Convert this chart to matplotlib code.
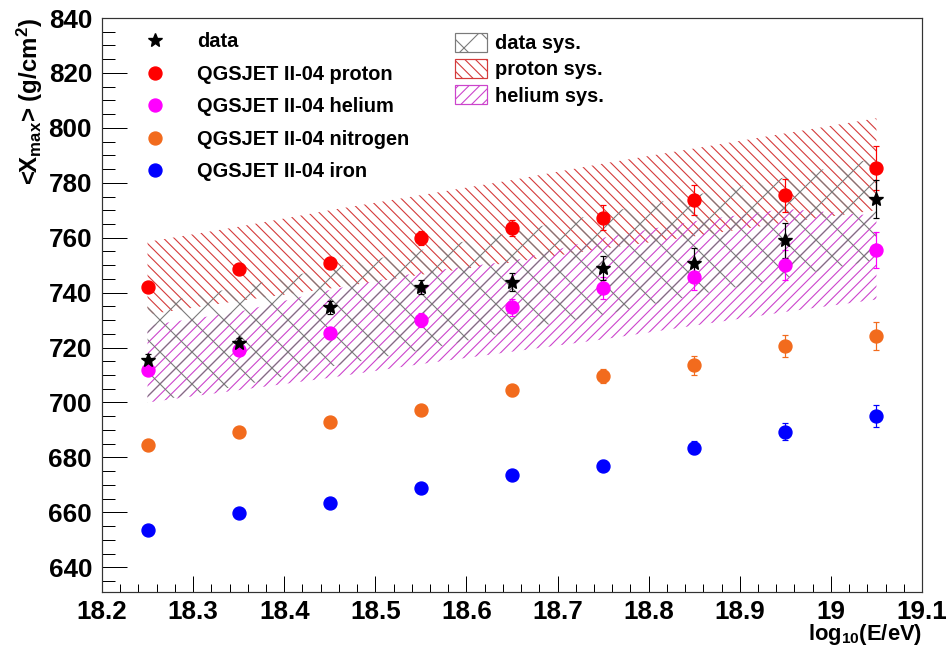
import matplotlib
matplotlib.use("Agg")
import matplotlib.pyplot as plt
from matplotlib.lines import Line2D
from matplotlib.patches import Patch
from matplotlib.ticker import MultipleLocator, FixedLocator

# ---------------- data ----------------
energy = [18.25, 18.35, 18.45, 18.55, 18.65, 18.75, 18.85, 18.95, 19.05]

data_xmax = [715.5, 721.5, 734.6, 742.0, 743.8, 749.0, 750.8, 759.0, 774.0]
data_err = [2.0, 2.0, 2.5, 2.5, 3.2, 4.5, 5.3, 6.4, 7.0]

proton_xmax = [742.0, 748.6, 750.8, 760.0, 763.6, 767.3, 773.6, 775.5, 785.5]
proton_err = [1.5, 1.5, 2.0, 2.5, 3.0, 4.5, 5.5, 6.0, 8.0]

helium_xmax = [712.0, 719.2, 725.3, 730.1, 734.6, 741.6, 745.8, 750.2, 755.6]
helium_err = [1.5, 1.5, 2.0, 2.5, 3.0, 4.0, 5.0, 5.5, 6.5]

nitrogen_xmax = [684.5, 689.4, 693.0, 697.3, 704.5, 709.6, 713.6, 720.7, 724.2]
nitrogen_err = [1.2, 1.2, 1.5, 1.8, 2.0, 2.5, 3.5, 4.0, 5.0]

iron_xmax = [653.5, 659.7, 663.4, 668.8, 673.6, 676.9, 683.6, 689.4, 695.0]
iron_err = [1.0, 1.0, 1.2, 1.5, 1.8, 2.0, 2.5, 3.0, 4.0]

data_sys_hi = [735.5, 742.0, 749.0, 755.5, 762.0, 769.0, 775.5, 782.0, 789.0]
data_sys_lo = [700.0, 706.0, 713.0, 719.0, 726.0, 732.0, 739.0, 745.5, 752.0]

proton_sys_hi = [758.5, 764.0, 770.0, 775.5, 781.0, 787.0, 792.5, 798.0, 803.5]
proton_sys_lo = [732.0, 737.0, 741.5, 746.5, 751.0, 756.0, 760.5, 765.5, 770.0]

helium_sys_hi = [728.0, 733.0, 741.0, 747.5, 751.5, 760.0, 766.0, 770.5, 768.0]
helium_sys_lo = [700.0, 704.5, 709.0, 714.0, 718.5, 723.0, 728.0, 733.0, 737.5]

x_ticks = [18.2, 18.3, 18.4, 18.5, 18.6, 18.7, 18.8, 18.9, 19.0, 19.1]
x_tick_labels = ["18.2", "18.3", "18.4", "18.5", "18.6", "18.7", "18.8", "18.9", "19", "19.1"]
y_ticks = [640, 660, 680, 700, 720, 740, 760, 780, 800, 820, 840]

model_labels = ["data", "QGSJET II-04 proton", "QGSJET II-04 helium",
                "QGSJET II-04 nitrogen", "QGSJET II-04 iron"]
sys_labels = ["data sys.", "proton sys.", "helium sys."]

# ---------------- style ----------------
FONT = "Liberation Sans"
DPI = 96
PX = 72.0 / DPI  # points per pixel

plt.rcParams["font.family"] = [FONT, "DejaVu Sans"]
plt.rcParams["font.weight"] = "bold"
plt.rcParams["axes.labelweight"] = "bold"
plt.rcParams["mathtext.fontset"] = "custom"
plt.rcParams["mathtext.rm"] = FONT + ":bold"
plt.rcParams["mathtext.it"] = FONT + ":bold"
plt.rcParams["mathtext.bf"] = FONT + ":bold"
plt.rcParams["mathtext.default"] = "rm"
plt.rcParams["hatch.linewidth"] = 1.1 * PX

c_data = "black"
c_proton = "#ff0000"
c_helium = "#ff00ff"
c_nitrogen = "#f26b1d"
c_iron = "#0000ff"
c_data_sys = "#7a7a7a"
c_proton_sys = "#d43a3a"
c_helium_sys = "#cc44cc"

hatch_data = "x"
hatch_proton = "\\\\\\"
hatch_helium = "///"

fig = plt.figure(figsize=(949 / DPI, 659 / DPI), dpi=DPI)
ax = fig.add_axes([102 / 949, 1 - 592 / 659, 820 / 949, 574 / 659])

# systematic bands
ax.fill_between(energy, proton_sys_lo, proton_sys_hi, facecolor="none",
                edgecolor=c_proton_sys, hatch=hatch_proton, linewidth=0, zorder=1)
ax.fill_between(energy, helium_sys_lo, helium_sys_hi, facecolor="none",
                edgecolor=c_helium_sys, hatch=hatch_helium, linewidth=0, zorder=1)
ax.fill_between(energy, data_sys_lo, data_sys_hi, facecolor="none",
                edgecolor=c_data_sys, hatch=hatch_data, linewidth=0, zorder=2)

ms = 13 * PX
eb_kw = dict(ls="none", elinewidth=1.2 * PX, capsize=3.0 * PX, capthick=1.2 * PX, zorder=4)
ax.errorbar(energy, iron_xmax, yerr=iron_err, marker="o", ms=ms, color=c_iron, mec=c_iron, **eb_kw)
ax.errorbar(energy, nitrogen_xmax, yerr=nitrogen_err, marker="o", ms=ms, color=c_nitrogen, mec=c_nitrogen, **eb_kw)
ax.errorbar(energy, helium_xmax, yerr=helium_err, marker="o", ms=ms, color=c_helium, mec=c_helium, **eb_kw)
ax.errorbar(energy, proton_xmax, yerr=proton_err, marker="o", ms=ms, color=c_proton, mec=c_proton, **eb_kw)
ax.errorbar(energy, data_xmax, yerr=data_err, marker="*", ms=15 * PX, color=c_data, mec=c_data, **eb_kw)

ax.set_xlim(18.2, 19.1)
ax.set_ylim(631, 840)
ax.xaxis.set_major_locator(FixedLocator(x_ticks))
ax.set_xticklabels(x_tick_labels)
ax.xaxis.set_minor_locator(MultipleLocator(0.02))
ax.yaxis.set_major_locator(FixedLocator(y_ticks))
ax.yaxis.set_minor_locator(MultipleLocator(5))

tick_fs = 26 * PX
ax.tick_params(axis="both", which="both", direction="in", width=1.0 * PX, colors="black")
ax.tick_params(axis="y", which="major", length=25 * PX, pad=10 * PX, labelsize=tick_fs)
ax.tick_params(axis="y", which="minor", length=13 * PX)
ax.tick_params(axis="x", which="major", length=16 * PX, pad=8 * PX, labelsize=tick_fs)
ax.tick_params(axis="x", which="minor", length=8 * PX)
for sp in ax.spines.values():
    sp.set_linewidth(1.2 * PX)
    sp.set_color("#333333")

ax.set_ylabel(r"<X$_{max}$> (g/cm$^{2}$)", fontsize=24 * PX, loc="top", labelpad=0)
ax.yaxis.set_label_coords(-0.069, 1.0)
ax.set_xlabel(r"log$_{10}$(E/eV)", fontsize=22 * PX, loc="right", labelpad=0)
ax.xaxis.set_label_coords(1.0, -0.052)

# legends
leg_fs = 20 * PX
h_models = [
    Line2D([], [], ls="none", marker="*", ms=15 * PX, color=c_data),
    Line2D([], [], ls="none", marker="o", ms=ms, color=c_proton),
    Line2D([], [], ls="none", marker="o", ms=ms, color=c_helium),
    Line2D([], [], ls="none", marker="o", ms=ms, color=c_nitrogen),
    Line2D([], [], ls="none", marker="o", ms=ms, color=c_iron),
]
leg1 = ax.legend(h_models, model_labels, loc="upper left", bbox_to_anchor=(0.0464, 0.975),
                 frameon=False, fontsize=leg_fs, handlelength=1.5, handletextpad=1.35,
                 labelspacing=0.67, borderpad=0, borderaxespad=0)
ax.add_artist(leg1)

h_sys = [
    Patch(facecolor="none", edgecolor=c_data_sys, hatch=hatch_data, linewidth=1.2 * PX),
    Patch(facecolor="none", edgecolor=c_proton_sys, hatch=hatch_proton, linewidth=1.2 * PX),
    Patch(facecolor="none", edgecolor=c_helium_sys, hatch=hatch_helium, linewidth=1.2 * PX),
]
leg2 = ax.legend(h_sys, sys_labels, loc="upper left", bbox_to_anchor=(0.4305, 0.9735),
                 frameon=False, fontsize=leg_fs, handlelength=1.6, handleheight=1.05,
                 handletextpad=0.4, labelspacing=0.3, borderpad=0, borderaxespad=0)

fig.savefig("out.png", dpi=DPI)
